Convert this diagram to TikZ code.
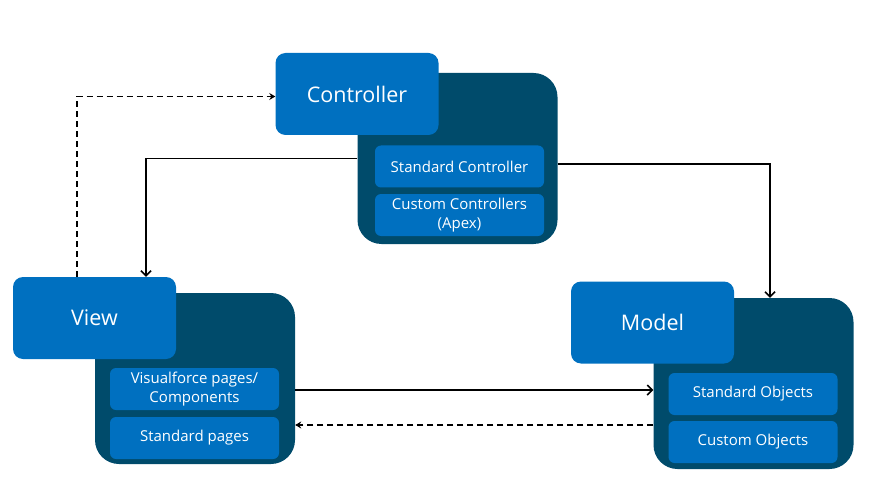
\documentclass[tikz,border=0pt]{standalone}
\usepackage{fontspec}
\setmainfont{Open Sans}
\usetikzlibrary{arrows.meta}
\definecolor{darkbox}{RGB}{0,75,107}
\definecolor{lightbox}{RGB}{0,112,192}
\tikzset{
	groupbox/.style={fill=darkbox, rounded corners=24pt, minimum width=200pt, minimum height=171pt},
	headbox/.style={fill=lightbox, rounded corners=10pt, minimum width=163pt, minimum height=82pt, text=white, font=\fontsize{21.5}{25}\selectfont},
	itembox/.style={fill=lightbox, rounded corners=6pt, minimum width=169pt, minimum height=42pt, text=white, align=center, font=\fontsize{15}{18.5}\selectfont},
	link/.style={line width=1.5pt, -{Straight Barb[length=5pt,width=10pt]}},
	dashlink/.style={line width=1.5pt, dash pattern=on 6pt off 4pt, -{Stealth[length=6pt,width=7pt]}}
}
\begin{document}
\begin{tikzpicture}[x=1pt, y=-1pt]
	\useasboundingbox (0, 0) rectangle (896, 489);
	% controller, view, model
	\node[groupbox] (ctrlbg) at (457.5, 158.5) {};
	\node[headbox] (ctrl) at (357, 94) {Controller};
	\node[itembox] (stdctrl) at (459.5, 166.5) {Standard Controller};
	\node[itembox] (custctrl) at (459.5, 215) {Custom Controllers\\(Apex)};

	\node[groupbox] (viewbg) at (195, 378.5) {};
	\node[headbox] (view) at (94.5, 318) {View};
	\node[itembox] (vfpages) at (194.5, 389) {Visualforce pages/\\Components};
	\node[itembox] (stdpages) at (194.5, 438) {Standard pages};

	\node[groupbox] (modelbg) at (753.5, 383.5) {};
	\node[headbox] (model) at (652.5, 322.5) {Model};
	\node[itembox] (stdobj) at (753, 394) {Standard Objects};
	\node[itembox] (custobj) at (753, 442) {Custom Objects};

	\draw[dashlink] ([xshift=-17.5pt]view.north) |- ([yshift=-2.5pt]ctrl.west);
	\draw[link] (ctrlbg.west) -| ([xshift=51.5pt]view.north);
	\draw[link] ([yshift=-5.5pt]ctrlbg.east) -| ([xshift=16.5pt]modelbg.north);
	\draw[link] (viewbg.east |- 0,390) -- (modelbg.west |- 0,390);
	\draw[dashlink] (modelbg.west |- 0,425) -- (viewbg.east |- 0,425);
\end{tikzpicture}
\end{document}
